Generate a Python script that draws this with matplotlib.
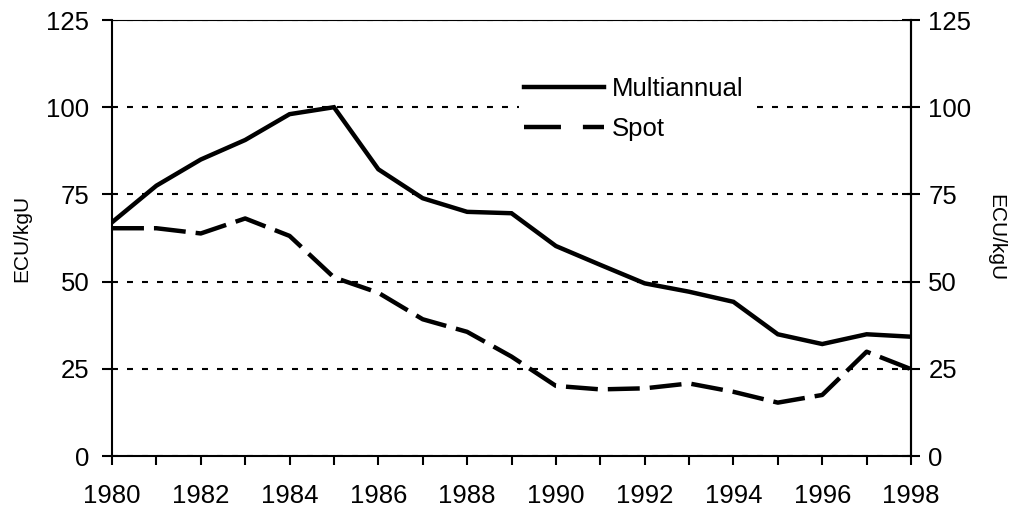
import matplotlib
matplotlib.use("Agg")
import matplotlib.pyplot as plt
from matplotlib.lines import Line2D

plt.rcParams['font.family'] = ['Liberation Sans', 'DejaVu Sans']
plt.rcParams['lines.scale_dashes'] = False

years = list(range(1980, 1999))
multiannual = [67, 77.5, 85, 90.6, 98, 100, 82.2, 73.9, 70, 69.6, 60.2, 54.8,
               49.5, 47.1, 44.2, 34.9, 32.1, 34.9, 34.2]
spot = [65.3, 65.3, 63.8, 68.1, 63.1, 51.2, 46.8, 39.2, 35.6, 28.5, 20.1, 19.1,
        19.4, 20.8, 18.4, 15.3, 17.5, 29.9, 24.9]
y_ticks = [0, 25, 50, 75, 100, 125]
x_labels = [str(y) if y % 2 == 0 else '' for y in years]
unit = 'ECU/kgU'

fs = 18.5
lw = 3.2
spot_dash = (23, 7.2)

fig = plt.figure(figsize=(10.09, 5.11), dpi=100)
ax = fig.add_axes([112 / 1009, 55 / 511, 799 / 1009, 436 / 511])

ax.plot(years, multiannual, color='black', lw=lw, solid_joinstyle='miter', zorder=3)
ax.plot(years, spot, color='black', lw=lw, dashes=spot_dash, zorder=3)

ax.set_xlim(1980, 1998)
ax.set_ylim(0, 125)
ax.set_xticks(years)
ax.set_xticklabels(x_labels, fontsize=fs)
ax.set_yticks(y_ticks)
ax.tick_params(axis='y', labelsize=fs, direction='out', length=7, width=1.5, pad=9.4)
ax.tick_params(axis='x', direction='out', length=6.5, width=1.5, pad=13.5)
ax.yaxis.grid(True, color='black', lw=1.5, dashes=(4.3, 6.5))
ax.set_axisbelow(True)

for side in ['left', 'bottom', 'right']:
    ax.spines[side].set_linewidth(1.5)
ax.spines['top'].set_linewidth(0.8)
ax.set_ylabel(unit, fontsize=15, va='center')
ax.yaxis.set_label_coords(-90 / 799, 0.5)

ax2 = ax.twinx()
ax2.set_ylim(0, 125)
ax2.set_yticks(y_ticks)
ax2.tick_params(axis='y', labelsize=fs, direction='inout', length=13, width=1.5, pad=6)
ax2.spines['right'].set_linewidth(1.5)
for side in ['left', 'bottom', 'top']:
    ax2.spines[side].set_visible(False)
ax2.set_ylabel(unit, fontsize=15, rotation=-90, va='center')
ax2.yaxis.set_label_coords(884 / 799, 0.5)

handles = [Line2D([], [], color='black', lw=lw),
           Line2D([], [], color='black', lw=lw, dashes=(26.6, 15.8))]
leg = ax2.legend(handles, ['Multiannual', 'Spot'], fontsize=fs,
                 loc='upper left', bbox_to_anchor=((519 - 112) / 799, (456 - 72) / 436),
                 borderaxespad=0, borderpad=0.2, handlelength=3.1, handletextpad=0.3,
                 labelspacing=0.62, frameon=True, fancybox=False, framealpha=1,
                 facecolor='white', edgecolor='none')

fig.savefig('out.png', dpi=100)
